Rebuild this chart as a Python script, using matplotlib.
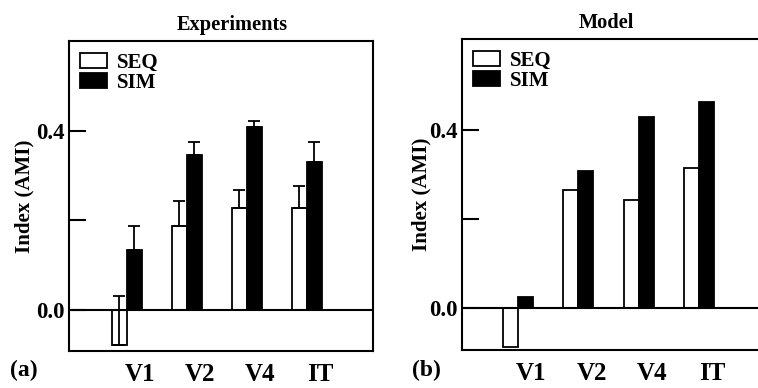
import matplotlib
matplotlib.use("Agg")
import matplotlib.pyplot as plt
import numpy as np

plt.rcParams['font.family'] = ['Liberation Serif', 'DejaVu Serif']
plt.rcParams['font.weight'] = 'bold'

areas = ["V1", "V2", "V4", "IT"]
exp_seq = [-0.078, 0.188, 0.227, 0.227]
exp_seq_err = [0.110, 0.055, 0.041, 0.049]
exp_sim = [0.134, 0.346, 0.408, 0.330]
exp_sim_err = [0.054, 0.029, 0.015, 0.045]
mod_seq = [-0.0875, 0.265, 0.242, 0.315]
mod_sim = [0.026, 0.309, 0.430, 0.463]

fig = plt.figure(figsize=(7.58, 3.88), dpi=100)

def panel(rect, seq, sim, seq_err, sim_err, title, title_x, letter, xlim, ylim, label_x, letter_x):
    ax = fig.add_axes(rect)
    x = np.arange(len(areas))
    w = 0.25
    ekw = dict(ecolor='black', elinewidth=1.3, capsize=4, capthick=1.3)
    if seq_err is not None:
        ax.bar(x - w / 2, seq, w, color='white', edgecolor='black', linewidth=1.3,
               yerr=[np.zeros(len(seq)), seq_err], error_kw=ekw, label='SEQ', zorder=2)
        ax.bar(x + w / 2, sim, w, color='black', edgecolor='black', linewidth=1.3,
               yerr=[np.zeros(len(sim)), sim_err], error_kw=ekw, label='SIM', zorder=2)
    else:
        ax.bar(x - w / 2, seq, w, color='white', edgecolor='black', linewidth=1.3, label='SEQ', zorder=2)
        ax.bar(x + w / 2, sim, w, color='black', edgecolor='black', linewidth=1.3, label='SIM', zorder=2)
    ax.axhline(0, color='black', lw=1.5, zorder=3)
    ax.set_xlim(*xlim)
    ax.set_ylim(*ylim)
    ax.set_yticks([0.0, 0.2, 0.4])
    ax.set_yticklabels(['0.0', '', '0.4'])
    ax.tick_params(axis='y', direction='in', length=12, width=1.5, pad=3, labelsize=16.5)
    ax.set_xticks(x + 0.22)
    ax.set_xticklabels(areas)
    ax.tick_params(axis='x', length=0, pad=9, labelsize=18)
    for s in ax.spines.values():
        s.set_linewidth(1.5)
    ax.set_ylabel('Index (AMI)', fontsize=15, fontweight='bold')
    ax.yaxis.set_label_coords(label_x, 0.5)
    ax.set_title(title, fontsize=14.7, fontweight='bold', pad=8, x=title_x)
    ax.legend(loc='upper left', bbox_to_anchor=(0.035, 0.962), frameon=False,
              fontsize=15, handlelength=1.3, handleheight=0.67, handletextpad=0.5,
              labelspacing=0.0, borderpad=0, borderaxespad=0)
    fig.text(letter_x, 0.044, letter, fontsize=17, fontweight='bold', ha='left', va='center')
    return ax

ax1 = panel([0.0910, 0.0954, 0.401, 0.799], exp_seq, exp_sim, exp_seq_err, exp_sim_err,
            'Experiments', 0.536, '(a)', (-0.967, 4.10), (-0.0916, 0.601), -0.113, 0.013)
ax2 = panel([0.6095, 0.098, 0.401, 0.8015], mod_seq, mod_sim, None, None,
            'Model', 0.476, '(b)', (-0.929, 4.11), (-0.0935, 0.604), -0.1, 0.543)

fig.savefig('out.png', dpi=100)
